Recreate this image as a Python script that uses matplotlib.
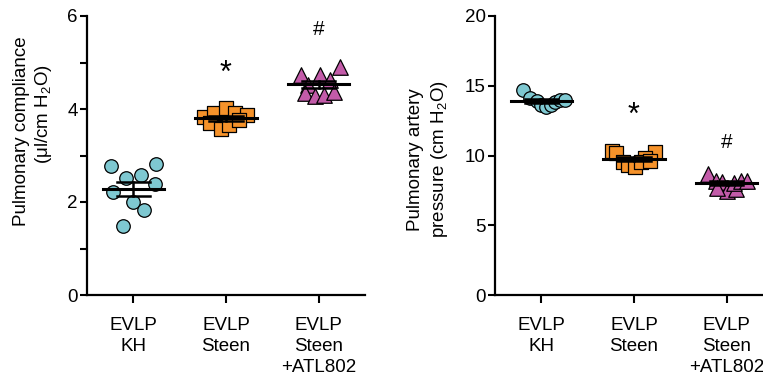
import numpy as np
import matplotlib
matplotlib.use("Agg")
import matplotlib.pyplot as plt

plt.rcParams["font.family"] = ["Liberation Sans", "DejaVu Sans"]
plt.rcParams["mathtext.fontset"] = "custom"
plt.rcParams["mathtext.rm"] = "Liberation Sans"
plt.rcParams["mathtext.default"] = "regular"

groups = ["EVLP\nKH", "EVLP\nSteen", "EVLP\nSteen\n+ATL802"]

# pulmonary compliance (ul/cm H2O)
comp_kh = [2.77, 2.51, 2.57, 2.82, 2.21, 2.38, 1.99, 1.83, 1.49]
comp_kh_x = [0.76, 0.92, 1.08, 1.24, 0.78, 1.23, 1.00, 1.11, 0.89]
comp_steen = [3.82, 3.91, 4.02, 3.91, 3.87, 3.69, 3.56, 3.66, 3.76]
comp_steen_x = [1.76, 1.87, 2.00, 2.10, 2.23, 1.83, 1.95, 2.03, 2.14]
comp_atl = [4.73, 4.73, 4.91, 4.62, 4.52, 4.34, 4.27, 4.30, 4.37]
comp_atl_x = [2.81, 3.01, 3.23, 3.12, 2.89, 2.85, 2.96, 3.06, 3.17]

# pulmonary artery pressure (cm H2O)
pap_kh = [14.7, 14.1, 13.9, 13.6, 13.5, 13.65, 13.8, 13.95, 14.0]
pap_kh_x = [0.80, 0.88, 0.95, 1.00, 1.05, 1.10, 1.15, 1.20, 1.25]
pap_steen = [10.3, 10.2, 10.25, 9.85, 9.55, 9.3, 9.15, 9.5, 9.6]
pap_steen_x = [1.76, 1.81, 2.23, 2.12, 1.88, 1.94, 2.01, 2.08, 2.17]
pap_atl = [8.7, 8.2, 8.1, 7.45, 7.7, 7.6, 8.05, 8.15, 8.2]
pap_atl_x = [2.80, 2.88, 2.95, 3.00, 2.90, 3.10, 3.08, 3.15, 3.22]

styles = [("o", "#7ec8d1", 95), ("s", "#f5922a", 100), ("^", "#c35ba9", 125)]

W, H = 763, 384
fig = plt.figure(figsize=(W / 100, H / 100), dpi=100)
ax1 = fig.add_axes([87 / W, 1 - 295 / H, 278 / W, 279 / H])
ax2 = fig.add_axes([495 / W, 1 - 295 / H, 278 / W, 279 / H])


def panel(ax, data, xs, ylim, yticks, ylabels, marks):
    for (vals, xv), (m, c, s) in zip(zip(data, xs), styles):
        ax.scatter(xv, vals, marker=m, s=s, c=c, edgecolors="black",
                   linewidths=0.9, zorder=2, clip_on=False)
    for i, vals in enumerate(data):
        pos = i + 1
        v = np.array(vals)
        mean = v.mean()
        sem = v.std(ddof=1) / np.sqrt(len(v))
        ax.plot([pos - 0.33, pos + 0.33], [mean, mean], color="black", lw=2.2, zorder=3)
        ax.plot([pos, pos], [mean - sem, mean + sem], color="black", lw=1.8, zorder=3)
        for yy in (mean - sem, mean + sem):
            ax.plot([pos - 0.18, pos + 0.18], [yy, yy], color="black", lw=1.8, zorder=3)
    for pos, yv, txt, fs in marks:
        ax.text(pos, yv, txt, ha="center", va="center", fontsize=fs)
    ax.set_xlim(0.5, 3.5)
    ax.set_ylim(*ylim)
    ax.set_yticks(yticks)
    ax.set_yticklabels(ylabels)
    ax.set_xticks([1, 2, 3])
    ax.set_xticklabels(groups, linespacing=1.3)
    for sp in ("top", "right"):
        ax.spines[sp].set_visible(False)
    for sp in ("left", "bottom"):
        ax.spines[sp].set_linewidth(1.6)
    ax.tick_params(axis="y", length=5, width=1.5, labelsize=13.5, pad=1.5)
    ax.tick_params(axis="x", length=6, width=1.5, labelsize=13.5, pad=10)


panel(ax1, [comp_kh, comp_steen, comp_atl], [comp_kh_x, comp_steen_x, comp_atl_x],
      (0, 6), [0, 1, 2, 3, 4, 5, 6], ["0", "", "2", "", "4", "", "6"],
      [(2, 4.76, "*", 22), (3, 5.7, "#", 15)])
panel(ax2, [pap_kh, pap_steen, pap_atl], [pap_kh_x, pap_steen_x, pap_atl_x],
      (0, 20), [0, 5, 10, 15, 20], ["0", "5", "10", "15", "20"],
      [(2, 12.85, "*", 22), (3, 10.9, "#", 15)])

fig.text(22 / W, 1 - 131 / H, "Pulmonary compliance", rotation=90,
         ha="center", va="center", fontsize=13.5)
fig.text(44 / W, 1 - 114 / H, "(\u03bcl/cm H$_2$O)", rotation=90,
         ha="center", va="center", fontsize=13.5)
fig.text(415 / W, 1 - 160 / H, "Pulmonary artery", rotation=90,
         ha="center", va="center", fontsize=13.5)
fig.text(439 / W, 1 - 159 / H, "pressure (cm H$_2$O)", rotation=90,
         ha="center", va="center", fontsize=13.5)

fig.savefig("out.png", dpi=100)
